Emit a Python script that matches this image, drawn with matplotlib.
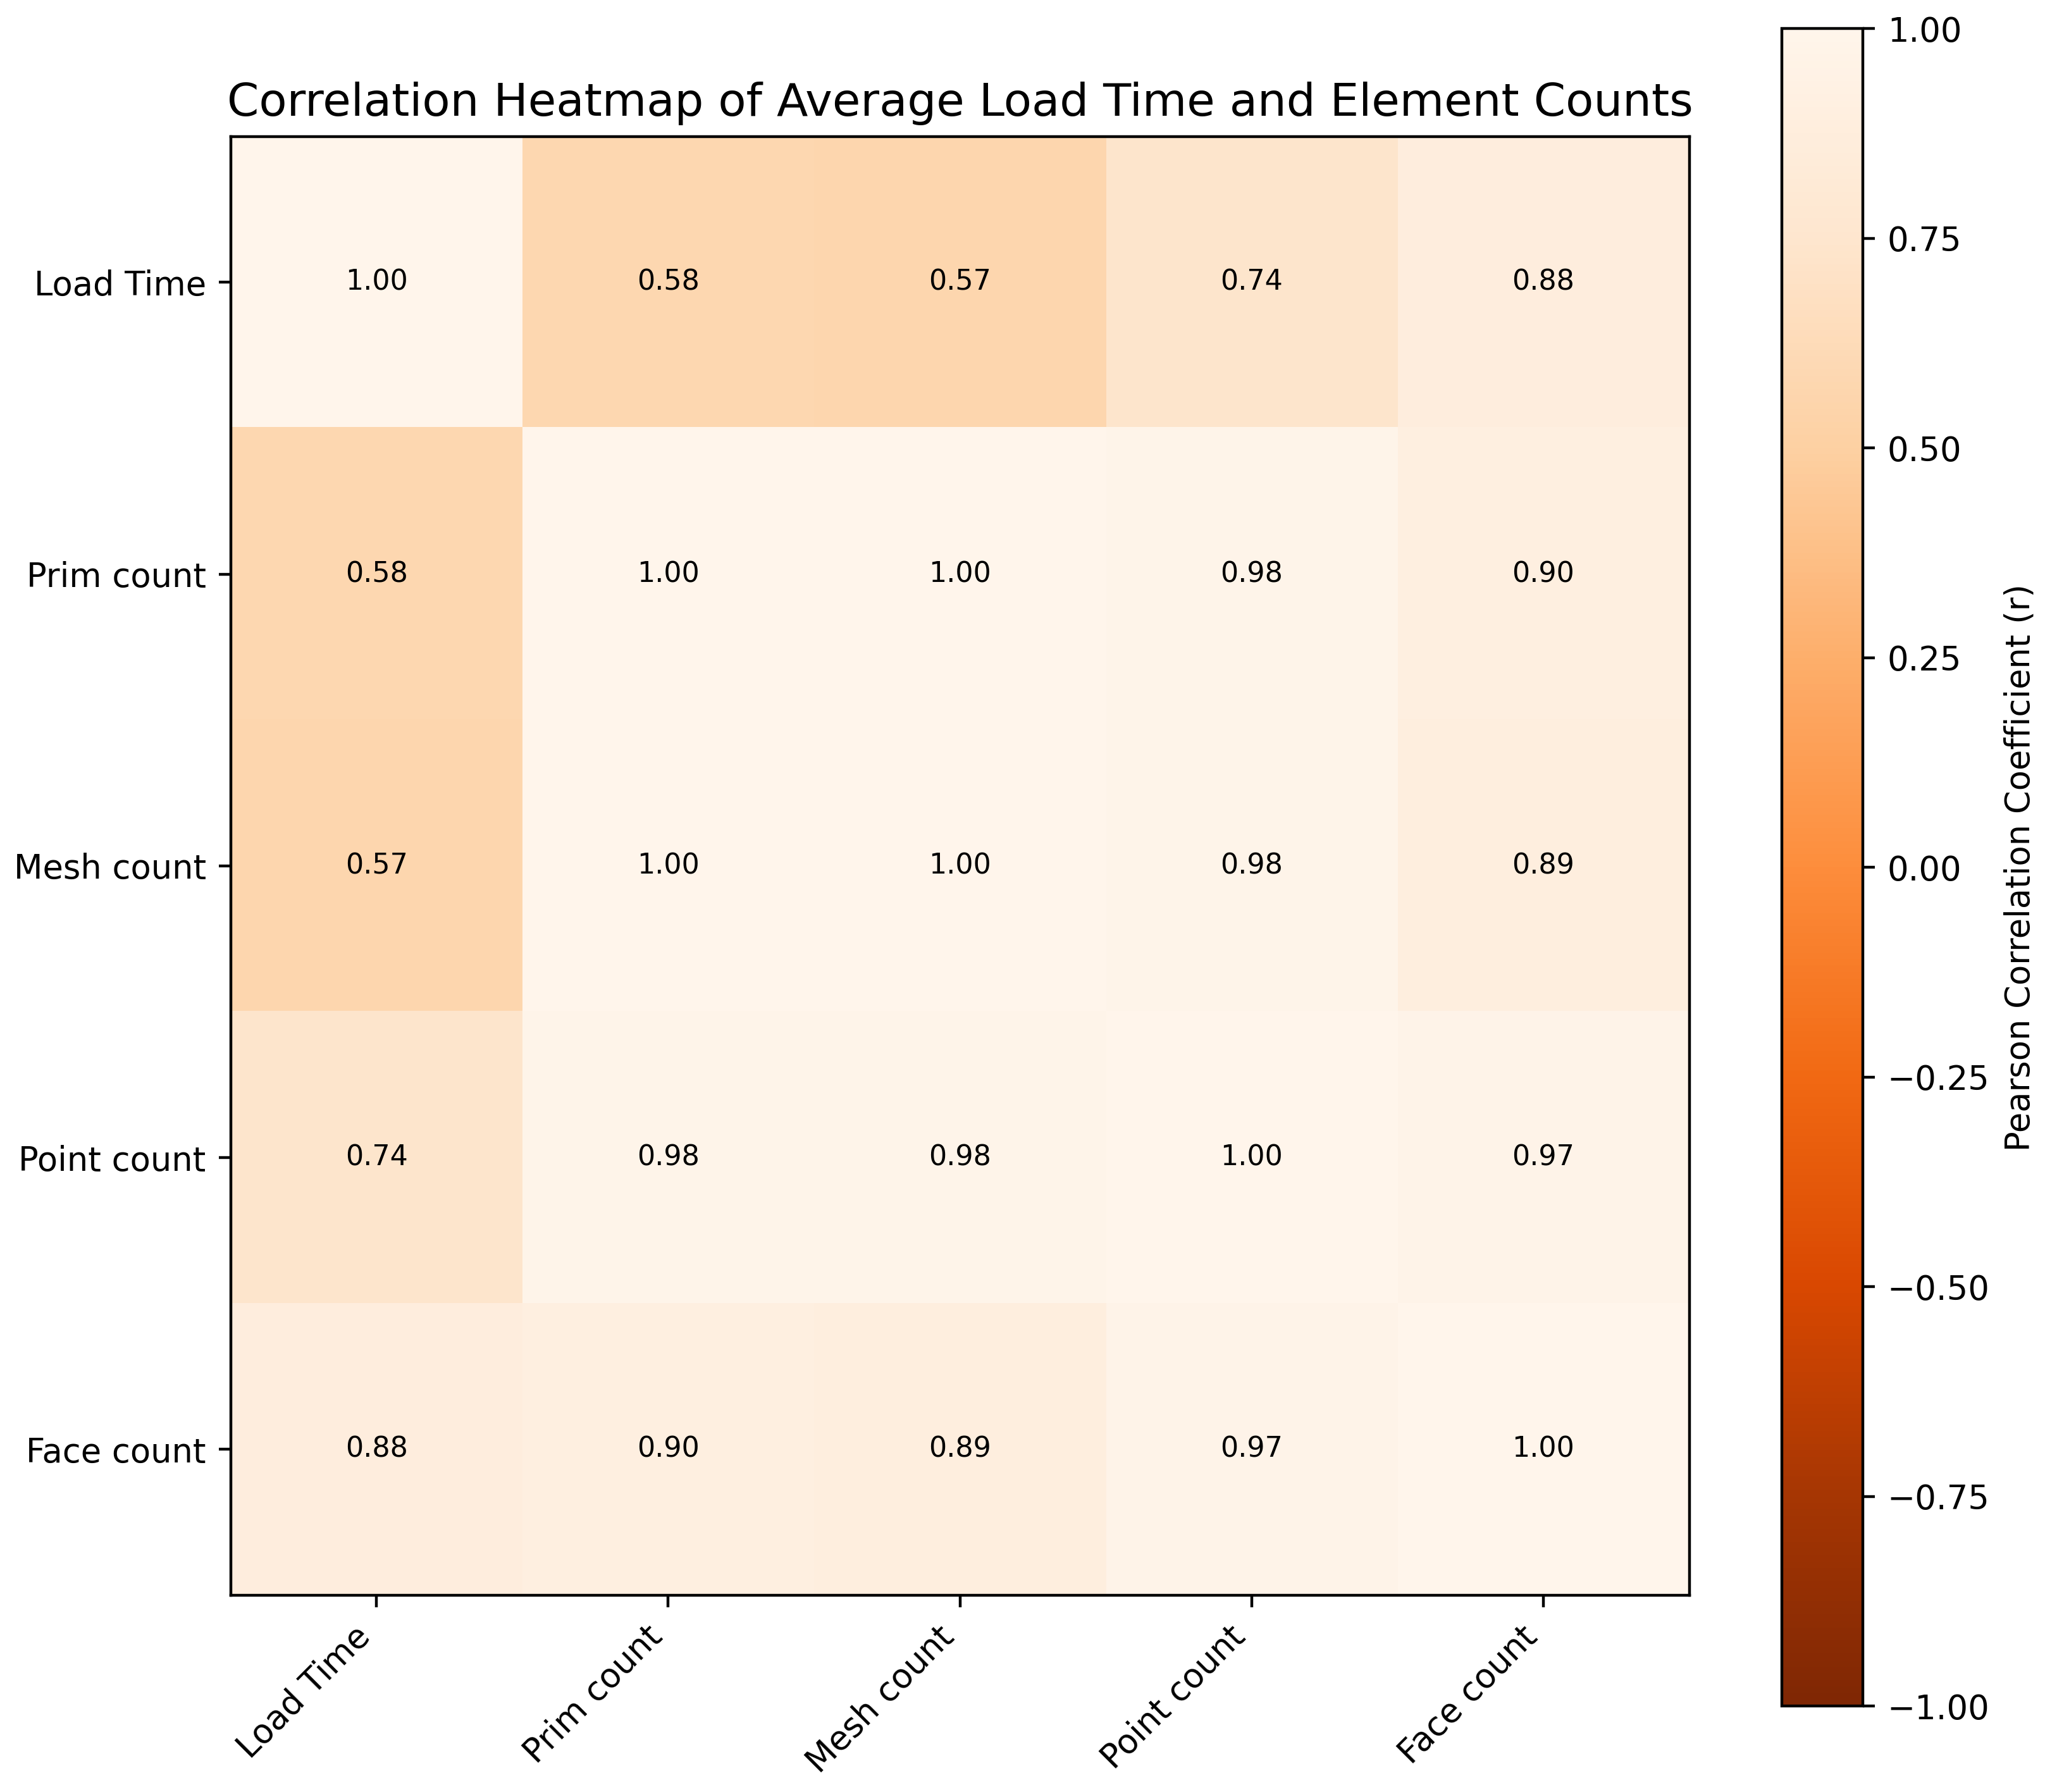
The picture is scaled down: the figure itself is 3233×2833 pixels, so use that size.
import numpy as np
import matplotlib
matplotlib.use("Agg")
import matplotlib.pyplot as plt

# -- Data --------------------------------------------------------------
labels = ["Load Time", "Prim count", "Mesh count", "Point count", "Face count"]
load_time = [1.00, 0.58, 0.57, 0.74, 0.88]
prim_count = [0.58, 1.00, 1.00, 0.98, 0.90]
mesh_count = [0.57, 1.00, 1.00, 0.98, 0.89]
point_count = [0.74, 0.98, 0.98, 1.00, 0.97]
face_count = [0.88, 0.90, 0.89, 0.97, 1.00]

corr = np.array([load_time, prim_count, mesh_count, point_count, face_count])

# -- Plot --------------------------------------------------------------
plt.rcParams['xtick.labelsize'] = 9.5
plt.rcParams['ytick.labelsize'] = 9.5
plt.rcParams['axes.labelsize'] = 9.5

fig = plt.figure(figsize=(3233 / 400, 2833 / 400), dpi=400)
ax = fig.add_axes([0.1123, 0.1098, 0.7142, 0.8140])
cax = fig.add_axes([0.8713, 0.048, 0.0396, 0.9361])

im = ax.imshow(corr, cmap="Oranges_r", vmin=-1, vmax=1)

for i in range(corr.shape[0]):
    for j in range(corr.shape[1]):
        ax.text(j, i, f"{corr[i, j]:.2f}", ha="center", va="center",
                color="black", fontsize=8)

ax.set_xticks(range(len(labels)))
ax.set_yticks(range(len(labels)))
ax.set_xticklabels(labels, rotation=45, ha="right")
ax.set_yticklabels(labels)
ax.set_title("Correlation Heatmap of Average Load Time and Element Counts",
             fontsize=13)

cbar = fig.colorbar(im, cax=cax)
cbar.set_label("Pearson Correlation Coefficient (r)")

fig.savefig("out.png", dpi=400)
